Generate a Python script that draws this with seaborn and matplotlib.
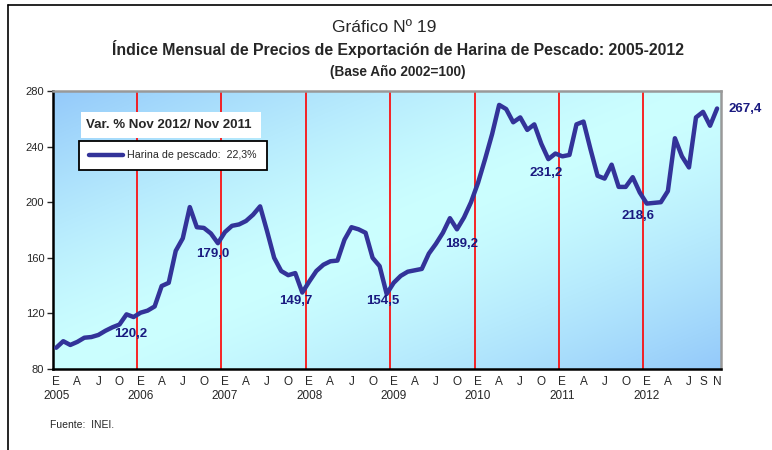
import numpy as np
import pandas as pd
import seaborn as sns
import matplotlib.pyplot as plt
from matplotlib import font_manager
from matplotlib.lines import Line2D
from matplotlib.patches import Rectangle

# Monthly index values (Jan..Dec)
v2005 = [95.3, 100, 97.3, 99.5, 102.5, 103, 104.5, 107.5, 110, 112, 119.3, 117.4]
v2006 = [120.5, 122, 125, 139.7, 142, 165, 174, 196.5, 182, 181.5, 177.5, 170.5]
v2007 = [178.5, 183, 184, 186.5, 191, 197, 179, 160, 150.5, 147.5, 149, 135]
v2008 = [143, 150.5, 155, 157.5, 158, 173, 182, 180.5, 178, 160, 154, 134]
v2009 = [142, 147, 150, 151, 152, 163, 170, 178, 188.5, 180.5, 189, 200]
v2010 = [214, 231, 249, 270, 267, 257.5, 261, 252, 256, 242, 231, 235]
v2011 = [233, 234, 256, 258, 238, 219, 217, 227, 211, 211, 218, 207]
v2012 = [199, 199.5, 200, 208, 246, 233, 225, 261, 265, 255, 267.4]  # Jan..Nov

years = [2005, 2006, 2007, 2008, 2009, 2010, 2011, 2012]
tick_months = [0, 3, 6, 9]
tick_letters = ['E', 'A', 'J', 'O']
tick_months_2012 = [0, 3, 6, 8, 10]
tick_letters_2012 = ['E', 'A', 'J', 'S', 'N']

# year-end data labels
label_idx = [11, 23, 35, 47, 59, 71, 83, 94]
label_txt = ['120,2', '179,0', '149,7', '154,5', '189,2', '231,2', '218,6', '267,4']
label_off = [(-2, -12), (-4, -8), (-5, -6), (-3, -5), (-7, -30), (-7, -14), (-1, -17), (20, 0)]

serie = v2005 + v2006 + v2007 + v2008 + v2009 + v2010 + v2011 + v2012
df = pd.DataFrame({'mes': np.arange(len(serie)), 'indice': serie})

sns.set_style('white')
names = {f.name for f in font_manager.fontManager.ttflist}
narrow = 'Liberation Sans Narrow' if 'Liberation Sans Narrow' in names else 'Liberation Sans'
plt.rcParams['font.family'] = ['Liberation Sans', 'DejaVu Sans']

W, H = 772, 450
fig = plt.figure(figsize=(7.72, 4.5), dpi=100)
ax = fig.add_axes([52.7 / W, 1 - 369 / H, (720.6 - 52.7) / W, (369 - 91) / H])

# diagonal gradient background
gx, gy = np.meshgrid(np.linspace(0, 1, 300), np.linspace(0, 1, 300))
w = (np.abs((gx + gy) / 2 - 0.5) * 2) ** 1.4
mid = np.array([0.80, 1.0, 1.0])
edge = np.array([0.58, 0.79, 0.98])
img = mid * (1 - w[..., None]) + edge * w[..., None]
ax.imshow(img, extent=[0, 1, 0, 1], transform=ax.transAxes, aspect='auto',
          origin='upper', zorder=0)

# red separators between years
for k in range(1, len(years)):
    ax.axvline(12 * k - 0.5, color='red', lw=1.2, zorder=1)

sns.lineplot(data=df, x='mes', y='indice', color='#333399', linewidth=3.2,
             ax=ax, label='Harina de pescado:  22,3%', zorder=3)

ax.set_xlim(-0.5, len(serie) - 0.5)
ax.set_ylim(80, 280)
ax.set_yticks(range(80, 281, 40))

ticks, tlabels = [], []
for k, yr in enumerate(years):
    months = tick_months_2012 if yr == 2012 else tick_months
    letters = tick_letters_2012 if yr == 2012 else tick_letters
    for m, let in zip(months, letters):
        ticks.append(12 * k + m)
        tlabels.append(f'{let}\n{yr}' if m == 0 else let)
ax.set_xticks(ticks)
ax.set_xticklabels(tlabels, linespacing=1.25)
ax.set_xlabel('')
ax.set_ylabel('')
ax.tick_params(axis='x', length=0, labelsize=8.5, pad=5)
ax.tick_params(axis='y', left=True, direction='out', length=4, width=1,
               labelsize=8, pad=2)

for s in ['left', 'bottom']:
    ax.spines[s].set_color('black')
    ax.spines[s].set_linewidth(1.8)
for s in ['top', 'right']:
    ax.spines[s].set_color('#999999')
    ax.spines[s].set_linewidth(1.8)

for i, t, off in zip(label_idx, label_txt, label_off):
    ax.annotate(t, (i, serie[i]), xytext=off, textcoords='offset points',
                ha='center', va='center', fontsize=9.5, fontweight='bold',
                color='#1a1a80', annotation_clip=False, zorder=4)

leg = ax.legend(loc='upper left', bbox_to_anchor=(79.3 / W, 1 - 140.7 / H),
                bbox_transform=fig.transFigure, frameon=True, fancybox=False,
                edgecolor='black', facecolor='white', framealpha=1, fontsize=7.7,
                handlelength=3.2, handletextpad=0.4, borderpad=0.9, borderaxespad=0)
leg.get_frame().set_linewidth(1.3)

fig.add_artist(Rectangle((80.7 / W, 1 - 138.3 / H), (261 - 80.7) / W, 26 / H,
                         transform=fig.transFigure, facecolor='white',
                         edgecolor='none', zorder=5))
fig.text(86 / W, 1 - 125 / H, 'Var. % Nov 2012/ Nov 2011', fontsize=9.5,
         fontweight='bold', va='center', zorder=6)

# titles
fig.text(0.498, 1 - 28 / H, 'Gráfico Nº 19', ha='center', va='center',
         family=[narrow, 'DejaVu Sans'], fontsize=12.5)
fig.text(0.515, 1 - 49 / H,
         'Índice Mensual de Precios de Exportación de Harina de Pescado: 2005-2012',
         ha='center', va='center', family=[narrow, 'DejaVu Sans'],
         fontweight='bold', fontsize=11.4)
fig.text(0.515, 1 - 72 / H, '(Base Año 2002=100)', ha='center', va='center',
         family=[narrow, 'DejaVu Sans'], fontweight='bold', fontsize=9.8)
fig.text(50 / W, 1 - 425 / H, 'Fuente:  INEI.', fontsize=7.5, va='center')

# outer frame (top and left edges)
fig.add_artist(Line2D([8 / W, 1], [1 - 5 / H, 1 - 5 / H], color='black', lw=1.2,
                      transform=fig.transFigure))
fig.add_artist(Line2D([8 / W, 8 / W], [0, 1 - 5 / H], color='black', lw=1.2,
                      transform=fig.transFigure))

fig.savefig('out.png', dpi=100)
